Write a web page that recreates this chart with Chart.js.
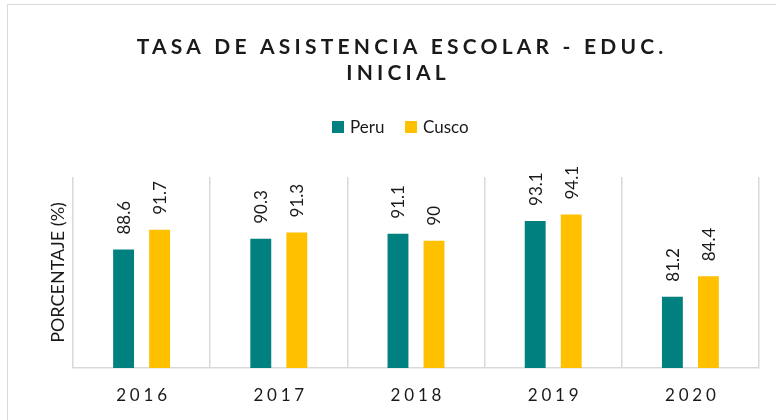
<!DOCTYPE html>
<html>
<head>
<meta charset="utf-8">
<script src="https://cdn.jsdelivr.net/npm/chart.js@4/dist/chart.umd.min.js"></script>
<style>
html,body{margin:0;padding:0;background:#fff;}
#wrap{position:relative;width:776px;height:420px;overflow:hidden;}
#frame{position:absolute;left:7px;top:4px;width:780px;height:430px;border:1px solid #d9d9d9;box-sizing:border-box;}
canvas{position:absolute;left:0;top:0;}
</style>
</head>
<body>
<div id="wrap"><div id="frame"></div><canvas id="c" width="776" height="420"></canvas></div>
<script>
const categories = ['2016', '2017', '2018', '2019', '2020'];
const peruValues = [88.6, 90.3, 91.1, 93.1, 81.2];
const cuscoValues = [91.7, 91.3, 90, 94.1, 84.4];
const seriesNames = ['Peru', 'Cusco'];
const titleLines = ['TASA DE ASISTENCIA ESCOLAR - EDUC.', 'INICIAL'];
const yAxisTitle = 'PORCENTAJE (%)';
const yMin = 70, yMax = 100;

const colors = ['#00807f', '#ffc000'];
const FONT = 'Lato, "Open Sans", sans-serif';

function spacedText(ctx, text, x, y, spacing) {
  ctx.letterSpacing = spacing + 'px';
  ctx.fillText(text, x + spacing / 2, y);
  ctx.letterSpacing = '0px';
}

const decor = {
  id: 'decor',
  afterDraw(chart) {
    const ctx = chart.ctx;
    const area = chart.chartArea;
    ctx.save();
    ctx.fillStyle = '#1a1a1a';
    ctx.textAlign = 'center';
    ctx.textBaseline = 'middle';
    // title
    ctx.font = 'bold 21px ' + FONT;
    spacedText(ctx, titleLines[0], 400, 47, 4.2);
    spacedText(ctx, titleLines[1], 396, 73, 4.2);
    // legend
    ctx.font = '17px ' + FONT;
    ctx.textAlign = 'left';
    const legendX = [332, 405];
    seriesNames.forEach((n, i) => {
      ctx.fillStyle = colors[i];
      ctx.fillRect(legendX[i], 121, 12, 12);
      ctx.fillStyle = '#1a1a1a';
      ctx.fillText(n, legendX[i] + 18, 127.5);
    });
    // y axis title
    ctx.save();
    ctx.translate(58, (area.top + area.bottom) / 2);
    ctx.rotate(-Math.PI / 2);
    ctx.textAlign = 'center';
    ctx.font = '18px ' + FONT;
    ctx.fillText(yAxisTitle, 0, 0);
    ctx.restore();
    // x labels
    const xs = chart.scales.x;
    ctx.textAlign = 'center';
    ctx.font = '17px ' + FONT;
    categories.forEach((c, i) => {
      spacedText(ctx, c, xs.getPixelForValue(i), 396, 3.8);
    });
    // data labels
    ctx.font = '17px ' + FONT;
    chart.data.datasets.forEach((ds, di) => {
      const meta = chart.getDatasetMeta(di);
      meta.data.forEach((bar, i) => {
        ctx.save();
        ctx.translate(bar.x + 1, bar.y - 15);
        ctx.rotate(-Math.PI / 2);
        ctx.textAlign = 'left';
        ctx.textBaseline = 'middle';
        ctx.fillStyle = '#1a1a1a';
        ctx.fillText(String(ds.data[i]), 0, 0);
        ctx.restore();
      });
    });
    ctx.restore();
  }
};

new Chart(document.getElementById('c'), {
  type: 'bar',
  data: {
    labels: categories,
    datasets: [
      { label: seriesNames[0], data: peruValues, backgroundColor: colors[0] },
      { label: seriesNames[1], data: cuscoValues, backgroundColor: colors[1] }
    ]
  },
  options: {
    responsive: false,
    animation: false,
    devicePixelRatio: 1,
    layout: { padding: { left: 73, right: 17, top: 177, bottom: 52 } },
    datasets: { bar: { categoryPercentage: 0.525, barPercentage: 0.58 } },
    plugins: { legend: { display: false }, title: { display: false }, tooltip: { enabled: false } },
    scales: {
      x: {
        offset: true,
        ticks: { display: false },
        grid: { display: true, offset: true, color: '#d9d9d9', lineWidth: 1.5, drawTicks: false },
        border: { display: true, color: '#d9d9d9', width: 1.5 }
      },
      y: {
        display: false,
        min: yMin,
        max: yMax
      }
    }
  },
  plugins: [decor]
});
</script>
</body>
</html>
